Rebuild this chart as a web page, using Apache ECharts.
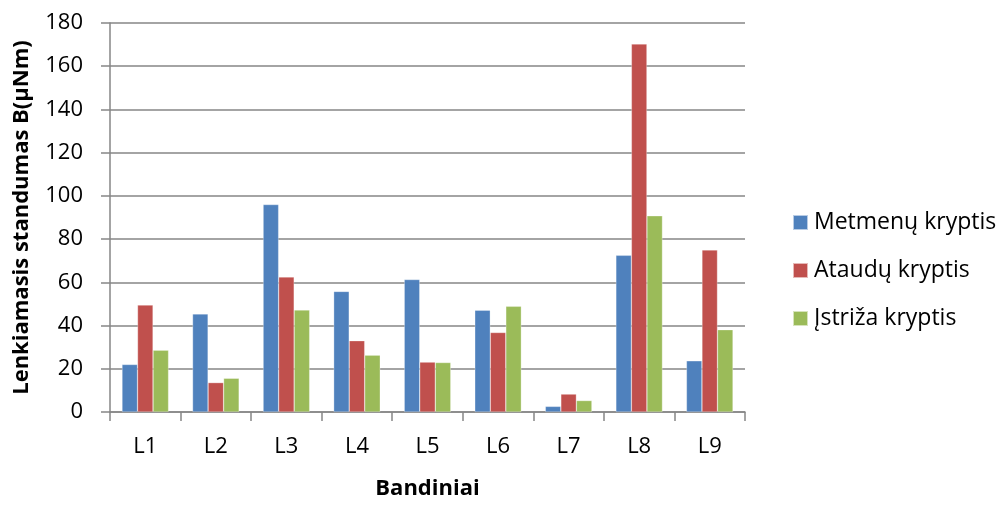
<!DOCTYPE html>
<html>
<head>
<meta charset="utf-8">
<script src="https://cdn.jsdelivr.net/npm/echarts@6/dist/echarts.min.js"></script>
<style>
html,body{margin:0;padding:0;background:#fff;}
#c{width:997px;height:505px;}
</style>
</head>
<body>
<div id="c"></div>
<script>
const categories = ['L1','L2','L3','L4','L5','L6','L7','L8','L9'];
const metmenu = [22.0, 45.4, 96.0, 55.8, 61.3, 47.1, 2.6, 72.5, 23.7];
const ataudu = [49.5, 13.6, 62.5, 33.0, 23.1, 36.8, 8.3, 170.3, 75.0];
const istriza = [28.6, 15.6, 47.2, 26.3, 22.9, 48.9, 5.3, 90.8, 38.1];
const seriesNames = ['Metmenų kryptis', 'Ataudų kryptis', 'Įstriža kryptis'];
const colors = ['#4F81BD', '#C0504D', '#9BBB59'];

const font = '"Open Sans", "Noto Sans", sans-serif';
const chart = echarts.init(document.getElementById('c'));
const mk = (name, data, color) => ({
  name, type: 'bar', data,
  barGap: '0%', barCategoryGap: '34%',
  itemStyle: { color, borderColor: 'rgba(255,255,255,0.6)', borderWidth: 0.5 },
  emphasis: { disabled: true }
});
chart.setOption({
  animation: false,
  textStyle: { fontFamily: font },
  grid: { left: 110, right: 252, top: 23, bottom: 90, containLabel: false },
  legend: {
    orient: 'vertical', left: 787, top: 206,
    itemWidth: 15, itemHeight: 15, itemGap: 25,
    icon: 'rect',
    textStyle: { fontSize: 23, color: '#000', fontFamily: font, padding: [0, 0, 0, 1] },
    data: seriesNames
  },
  xAxis: {
    type: 'category', data: categories,
    name: 'Bandiniai', nameLocation: 'middle', nameGap: 66,
    nameTextStyle: { fontSize: 22, fontWeight: 'bold', color: '#000', fontFamily: font },
    axisLine: { lineStyle: { color: '#868686', width: 1.5 } },
    axisTick: { show: true, length: 9, lineStyle: { color: '#868686', width: 1.5 } },
    axisLabel: { fontSize: 22, color: '#000', margin: 24, fontFamily: font },
    splitLine: { show: false }
  },
  yAxis: {
    type: 'value', min: 0, max: 180, interval: 20,
    name: 'Lenkiamasis standumas B(µNm)', nameLocation: 'middle', nameGap: 77,
    nameTextStyle: { fontSize: 22, fontWeight: 'bold', color: '#000', fontFamily: font },
    axisLine: { show: true, lineStyle: { color: '#868686', width: 1.5 } },
    axisTick: { show: true, length: 9, lineStyle: { color: '#868686', width: 1.5 } },
    axisLabel: { fontSize: 22, color: '#000', margin: 27, fontFamily: font },
    splitLine: { show: true, lineStyle: { color: '#868686', width: 1.5 } }
  },
  series: [
    mk(seriesNames[0], metmenu, colors[0]),
    mk(seriesNames[1], ataudu, colors[1]),
    mk(seriesNames[2], istriza, colors[2])
  ]
});
</script>
</body>
</html>
